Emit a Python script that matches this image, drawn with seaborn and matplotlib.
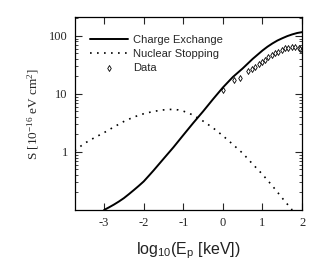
import numpy as np
import matplotlib
matplotlib.use("Agg")
import matplotlib.pyplot as plt
import matplotlib.ticker as mticker
import seaborn as sns

# ------------------------------------------
# Data
# ------------------------------------------

ce_x = [-3.0, -2.875, -2.75, -2.625, -2.5, -2.375, -2.25, -2.125, -2.0,
        -1.875, -1.75, -1.5, -1.25, -1.0, -0.75, -0.5, -0.25, 0.0, 0.25,
        0.5, 0.75, 1.0, 1.125, 1.25, 1.375, 1.5, 1.625, 1.75, 1.875, 2.0]
ce_y = [0.10, 0.111, 0.124, 0.14, 0.16, 0.187, 0.22, 0.26, 0.31,
        0.385, 0.48, 0.76, 1.2, 1.95, 3.15, 5.0, 8.1, 12.9, 19.5,
        27.5, 40, 56, 65, 74, 83, 91, 99, 106, 112, 116]

ns_x = [-3.74, -3.5, -3.25, -3.0, -2.75, -2.5, -2.25, -2.0, -1.75, -1.5,
        -1.375, -1.25, -1.125, -1.0, -0.875, -0.75, -0.5, -0.25, 0.0, 0.25,
        0.5, 0.75, 1.0, 1.25, 1.5, 1.75]
ns_y = [1.05, 1.4, 1.75, 2.15, 2.7, 3.35, 4.0, 4.55, 5.0, 5.3,
        5.4, 5.4, 5.3, 5.05, 4.7, 4.3, 3.4, 2.6, 1.9, 1.35,
        0.95, 0.62, 0.41, 0.26, 0.16, 0.1]

data_x = [0.01, 0.27, 0.43, 0.64, 0.73, 0.81, 0.90, 0.98, 1.07, 1.15, 1.23,
          1.32, 1.40, 1.49, 1.57, 1.65, 1.74, 1.82, 1.91, 1.95, 1.99]
data_y = [11.7, 17.5, 18.8, 24.5, 27, 29, 33, 36, 38, 42.5, 46.7,
          50, 53, 57, 61, 63, 65, 65, 63, 59, 56]

x_ticks = [-3, -2, -1, 0, 1, 2]
y_ticks = [1, 10, 100]
y_tick_labels = ["1", "10", "100"]

# ------------------------------------------
# Style
# ------------------------------------------

sns.set_style("ticks")
plt.rcParams["font.family"] = ["Liberation Serif", "DejaVu Serif"]
plt.rcParams["mathtext.default"] = "regular"
plt.rcParams["axes.unicode_minus"] = False

fig = plt.figure(figsize=(3.28, 2.77), dpi=100)
ax = fig.add_axes([0.228, 0.242, 0.693, 0.696])

sns.lineplot(x=ce_x, y=ce_y, ax=ax, color="black", linewidth=1.4,
             label="Charge Exchange")
sns.lineplot(x=ns_x, y=ns_y, ax=ax, color="black", linewidth=1.2,
             linestyle=(0, (1, 3.2)), label="Nuclear Stopping")
sns.scatterplot(x=data_x, y=data_y, ax=ax, marker="d", s=9,
                facecolor="white", edgecolor="black", linewidth=0.6,
                label="Data")

ax.set_yscale("log")
ax.set_xlim(-3.74, 2.0)
ax.set_ylim(0.1, 210)

ax.set_xticks(x_ticks)
ax.set_xticklabels([str(t) for t in x_ticks])
ax.set_yticks(y_ticks)
ax.set_yticklabels(y_tick_labels)
ax.yaxis.set_minor_locator(mticker.LogLocator(base=10, subs=np.arange(2, 10)))
ax.yaxis.set_minor_formatter(mticker.NullFormatter())

ax.tick_params(axis="both", which="major", direction="in", top=True,
               right=True, length=5, width=0.8, labelsize=9, pad=5)
ax.tick_params(axis="y", which="minor", direction="in", right=True,
               length=2.5, width=0.6)
ax.tick_params(axis="x", which="minor", bottom=False, top=False)

for sp in ax.spines.values():
    sp.set_linewidth(0.9)
    sp.set_color("black")

ax.set_xlabel("log$_{10}$(E$_p$ [keV])", family="Liberation Sans",
              fontsize=11.5, labelpad=8, color="#222222")
ax.set_ylabel("S [10$^{-16}$ eV cm$^{2}$]", fontsize=9.5, labelpad=6)

ax.legend(loc="upper left", bbox_to_anchor=(0.067, 0.906), borderaxespad=0,
          frameon=False, handlelength=3.4, handletextpad=0.45,
          labelspacing=0.35, borderpad=0,
          prop={"family": "Liberation Sans", "size": 8})

fig.savefig("out.png", dpi=100)
